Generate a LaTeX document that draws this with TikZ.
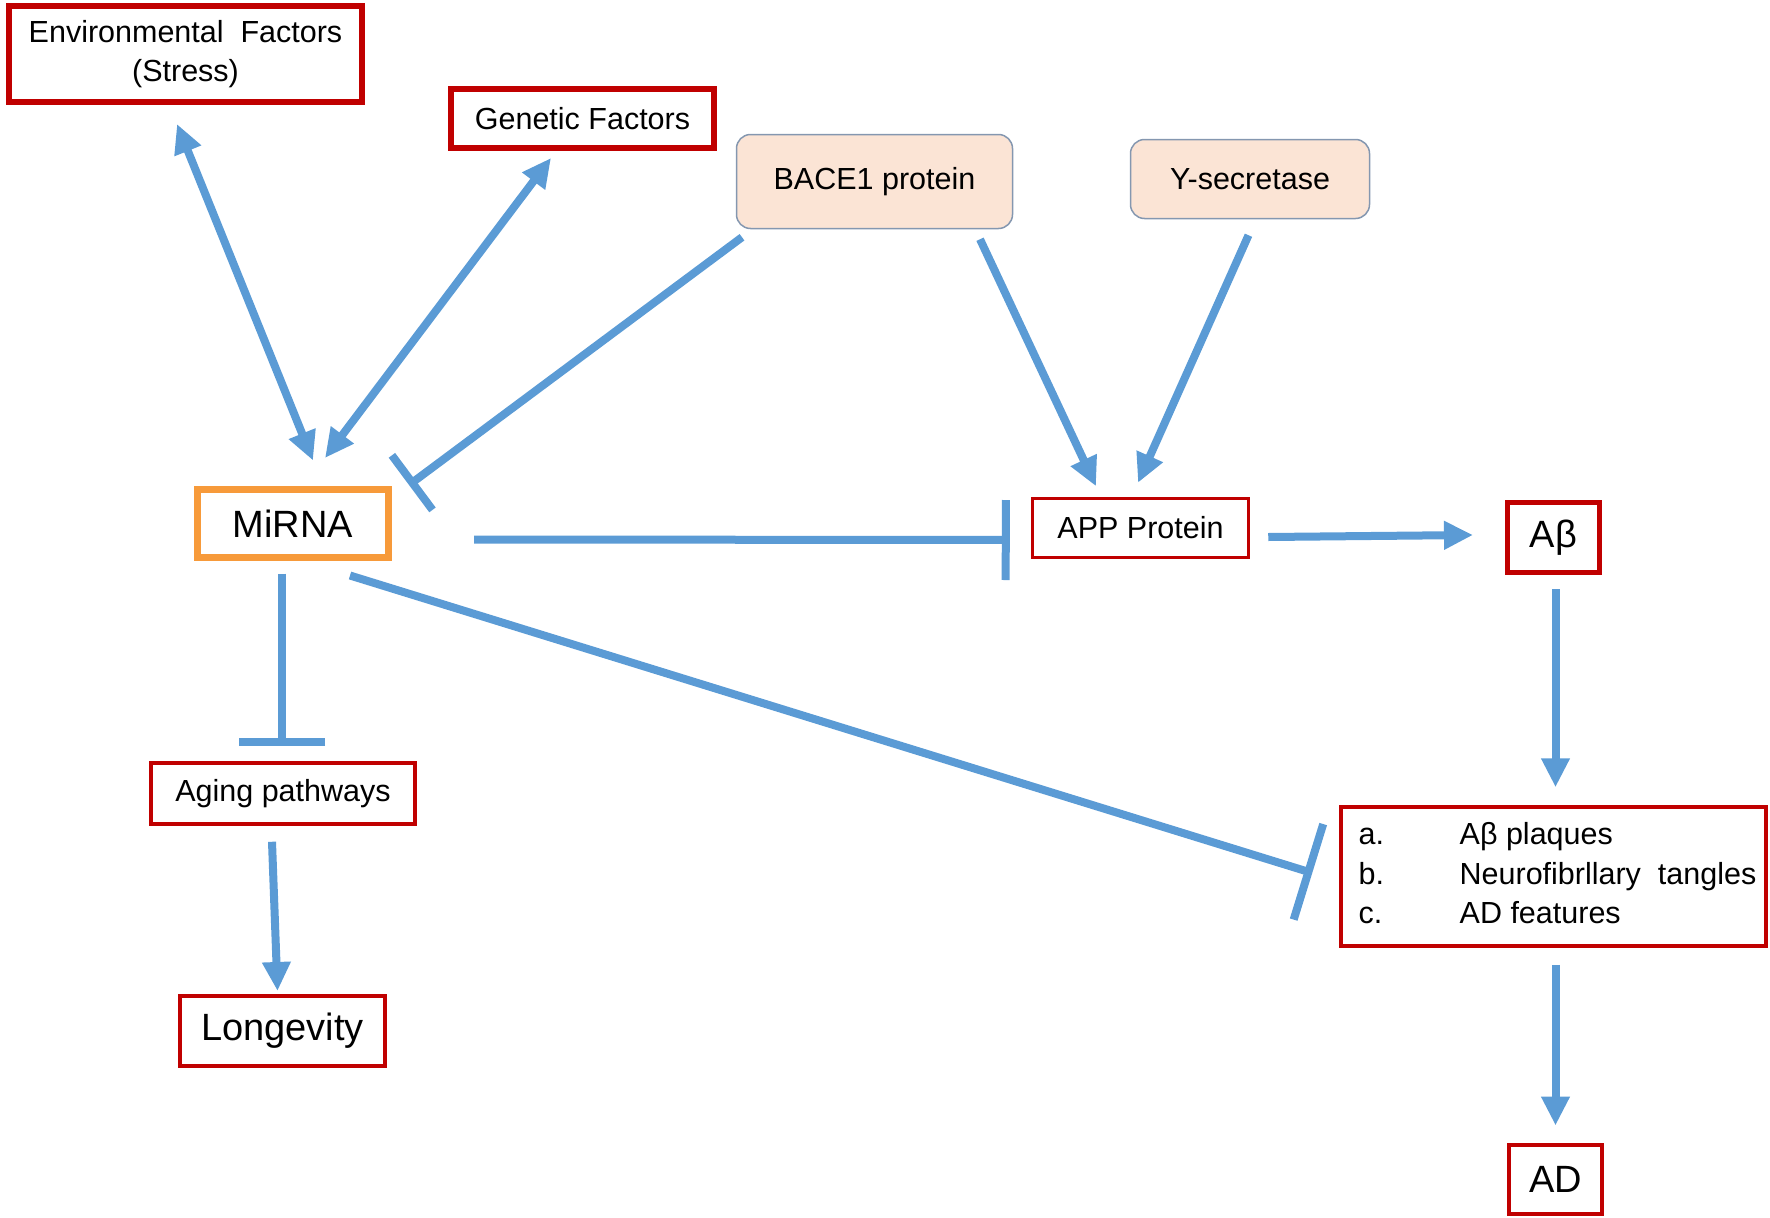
\documentclass[tikz,border=0pt]{standalone}
\usepackage{fontspec}
\setmainfont{Liberation Sans}
\usepackage{xcolor}
\definecolor{adred}{RGB}{192, 0, 0}
\definecolor{mirorange}{RGB}{247, 154, 58}
\definecolor{lineblue}{RGB}{91, 155, 213}
\definecolor{protfill}{RGB}{251, 228, 213}
\definecolor{protedge}{RGB}{132, 151, 176}
\usepackage{tikz}
\usetikzlibrary{arrows.meta, positioning, calc}

\begin{document}
\begin{tikzpicture}[x=1pt, y=-1pt,
        redbox/.style={rectangle, draw=adred, line width=3.5pt, fill=white, inner sep=0pt, align=center, font=\fontsize{30.5}{39.5}\selectfont},
        thickred/.style={redbox, line width=6pt},
        protbox/.style={rectangle, draw=protedge, fill=protfill, rounded corners=14pt, line width=1.5pt, inner sep=0pt, font=\fontsize{30.5}{39.5}\selectfont},
        mirbox/.style={rectangle, draw=mirorange, line width=7pt, fill=white, inner sep=0pt, font=\fontsize{38}{45}\selectfont},
        line/.style={draw=lineblue, line width=8pt, -{Triangle[length=29pt, width=27pt]}},
        dline/.style={draw=lineblue, line width=8pt, {Triangle[length=29pt, width=27pt]}-{Triangle[length=29pt, width=27pt]}},
        inhib/.style={draw=lineblue, line width=8pt, -{Bar[width=#1]}},
        inhib/.default=86pt]
        \useasboundingbox (0,0) rectangle (1770,1218);

        % Factores y proteinas (fila superior)
        \node [thickred, minimum width=353pt, minimum height=96pt] (env) at (185.5,54) {\raisebox{-4pt}{Environmental~~Factors}\\\raisebox{-4pt}{(Stress)}};
        \node [thickred, minimum width=263pt, minimum height=59pt] (genetic) at (582.5,118.5) {Genetic Factors};
        \node [protbox, minimum width=276pt, minimum height=94pt] (bace) at (874.5,181.5) {BACE1 protein};
        \node [protbox, minimum width=239pt, minimum height=79pt] (ysec) at (1250,179) {Y-secretase};

        % Fila central
        \node [mirbox, minimum width=191pt, minimum height=68pt] (mirna) at (293,523.5) {MiRNA};
        \node [redbox, minimum width=216pt, minimum height=59pt] (app) at (1140.5,528) {APP Protein};
        \node [thickred, line width=5pt, minimum width=92pt, minimum height=70pt, font=\fontsize{38}{45}\selectfont] (abeta) at (1553.5,537.5) {Aβ};

        % Columna izquierda y derecha
        \node [redbox, minimum width=264pt, minimum height=61pt] (aging) at (283,793.5) {Aging pathways};
        \node [redbox, line width=4pt, minimum width=205pt, minimum height=70pt, font=\fontsize{38}{45}\selectfont] (longevity) at (282.5,1031) {Longevity};
        \node [redbox, minimum width=425pt, minimum height=139pt] (features) at (1553.5,876.5) {%
            \raisebox{-5pt}{\begin{tabular}{@{\hspace{8pt}}p{89pt}l@{}}
                a. & Aβ plaques\\
                b. & Neurofibrllary~~tangles\\
                c. & AD features
            \end{tabular}}};
        \node [redbox, line width=4pt, minimum width=93pt, minimum height=69pt, font=\fontsize{38}{45}\selectfont] (ad) at (1555.5,1179.5) {AD};

        % Conexiones
        \path [dline] ($(env.south)+(-8.5,19)$) -- ($(mirna.north)+(20,-25.5)$);
        \path [dline] ($(genetic.south)+(-31.5,7)$) -- ($(mirna.north)+(32,-28)$);
        \path [inhib=68pt] ($(bace.south)+(-132.5,8)$) -- ($(mirna.north east)+(17,-1)$);
        \path [line] ($(bace.south)+(105.5,10)$) -- ($(app.north)+(-44.5,-10.5)$);
        \path [line] ($(ysec.south)+(-1.5,16)$) -- ($(app.north)+(-2.5,-14)$);
        \path [inhib=80pt] ($(mirna.east)+(82,16)$) -- ($(app.west)+(-21,12)$);
        \path [line] ($(app.east)+(18,9)$) -- ($(abeta.west)+(-32,-2.5)$);
        \path [inhib=100pt] ($(mirna.south)+(57,14.5)$) -- ($(features.west)+(-27,-3.5)$);
        \path [inhib] ($(mirna.south)+(-11,12.5)$) -- ($(aging.north)+(-1,-15)$);
        \path [line] ($(aging.south)+(-11,16)$) -- ($(longevity.north)+(-5,-3)$);
        \path [line] ($(abeta.south)+(2,14)$) -- ($(features.north)+(2,-18)$);
        \path [line] ($(features.south)+(2,17)$) -- ($(ad.north)+(0,-17.5)$);
\end{tikzpicture}
\end{document}
